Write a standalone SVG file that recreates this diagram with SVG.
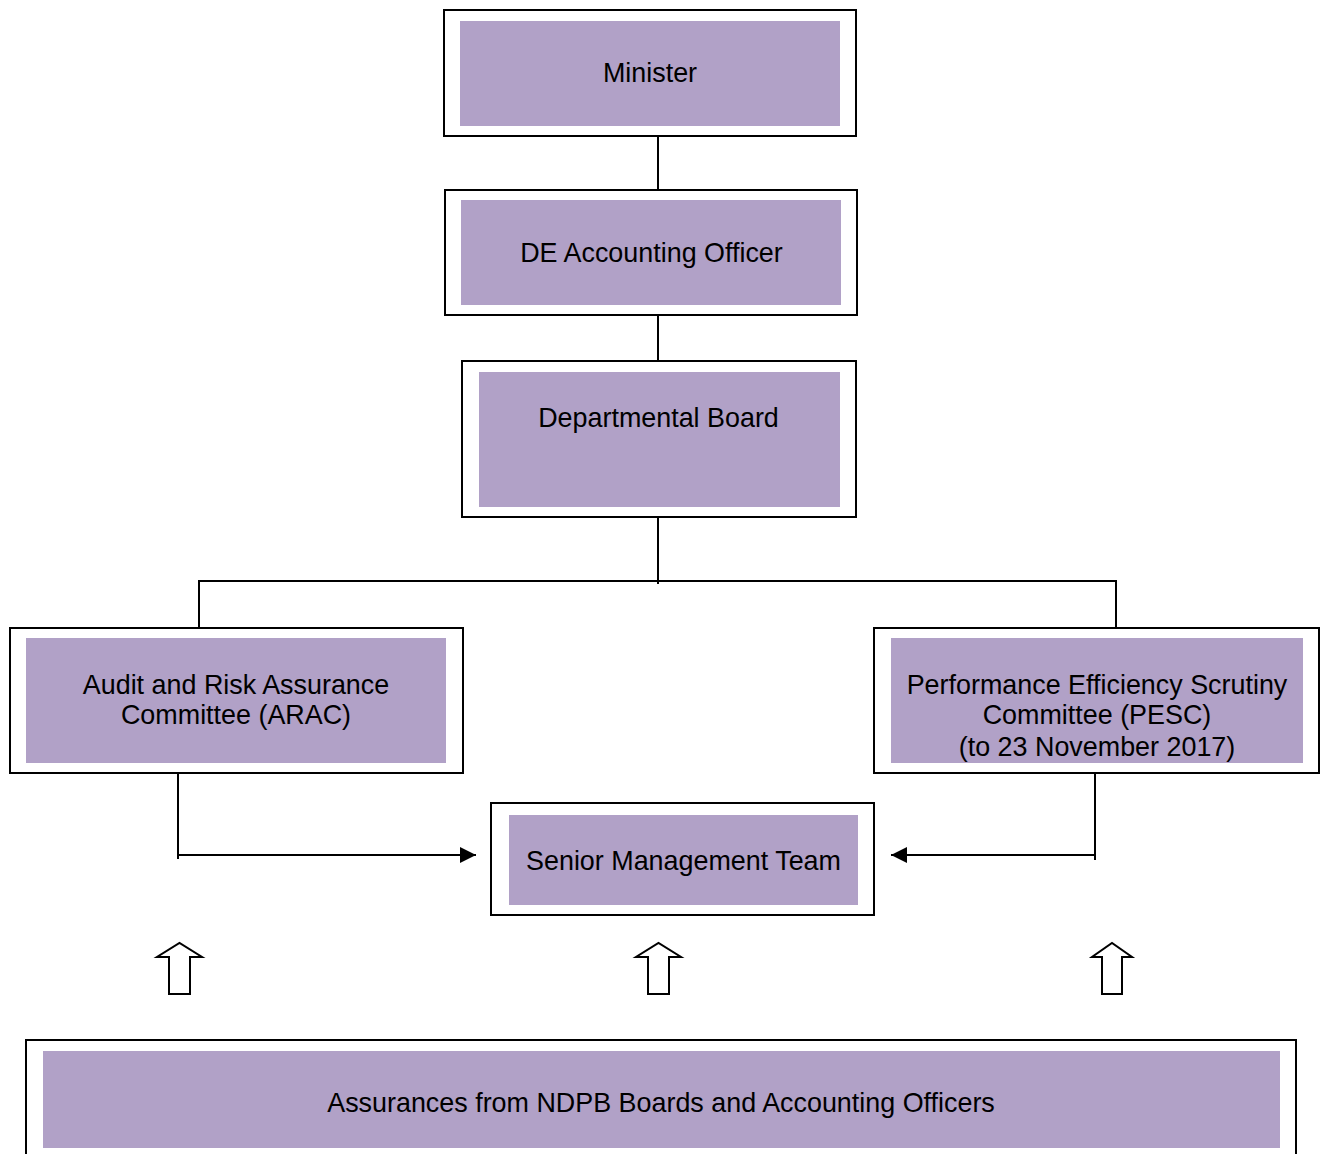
<svg xmlns="http://www.w3.org/2000/svg" width="1322" height="1154" viewBox="0 0 1322 1154">
<style>
.outer{fill:#fff;stroke:#000;stroke-width:2}
.inner{fill:#B1A1C7;stroke:none}
.t{font-family:"Liberation Sans",Arial,sans-serif;font-size:26.9px;fill:#000;text-anchor:middle}
.ln{stroke:#000;stroke-width:2;fill:none}
.hollow{fill:#fff;stroke:#000;stroke-width:2;stroke-linejoin:miter}
</style>
<defs>
<marker id="ah" viewBox="0 0 16 16" refX="16" refY="8" markerWidth="16" markerHeight="16" markerUnits="userSpaceOnUse" orient="auto">
<path d="M0,0 L16,8 L0,16 Z" fill="#000"/>
</marker>
</defs>
<rect width="1322" height="1154" fill="#fff"/>
<g id="connectors">
<line class="ln" x1="658" y1="136" x2="658" y2="190"/>
<line class="ln" x1="658" y1="313" x2="658" y2="361"/>
<line class="ln" x1="658" y1="511" x2="658" y2="584"/>
<polyline class="ln" points="199,627 199,581 1116,581 1116,628"/>
<polyline class="ln" points="178,770 178,859"/>
<line class="ln" x1="178" y1="855" x2="476" y2="855" marker-end="url(#ah)"/>
<polyline class="ln" points="1095,773 1095,860"/>
<line class="ln" x1="1095" y1="855" x2="891" y2="855" marker-end="url(#ah)"/>
<path class="hollow" d="M169,994 L169,957 L157,957 L179.5,943 L202,957 L190,957 L190,994 Z"/>
<path class="hollow" d="M648,994 L648,957 L636,957 L658.5,943 L681,957 L669,957 L669,994 Z"/>
<path class="hollow" d="M1102,994 L1102,957 L1092,957 L1112,943 L1132,957 L1122,957 L1122,994 Z"/>
</g>
<g id="minister">
<rect class="outer" x="444" y="10" width="412" height="126"/>
<rect class="inner" x="460" y="21" width="380" height="105"/>
<text class="t" x="650" y="82">Minister</text>
</g>
<g id="de-accounting-officer">
<rect class="outer" x="445" y="190" width="412" height="125"/>
<rect class="inner" x="461" y="200" width="380" height="105"/>
<text class="t" x="651.5" y="262">DE Accounting Officer</text>
</g>
<g id="departmental-board">
<rect class="outer" x="462" y="361" width="394" height="156"/>
<rect class="inner" x="479" y="372" width="361" height="135"/>
<text class="t" x="658.5" y="427">Departmental Board</text>
</g>
<g id="arac">
<rect class="outer" x="10" y="628" width="453" height="145"/>
<rect class="inner" x="26" y="638" width="420" height="125"/>
<text class="t" x="236" y="694">Audit and Risk Assurance</text>
<text class="t" x="236" y="724">Committee (ARAC)</text>
</g>
<g id="pesc">
<rect class="outer" x="874" y="628" width="445" height="145"/>
<rect class="inner" x="891" y="638" width="412" height="125"/>
<text class="t" x="1097" y="694">Performance Efficiency Scrutiny</text>
<text class="t" x="1097" y="724">Committee (PESC)</text>
<text class="t" x="1097" y="756">(to 23 November 2017)</text>
</g>
<g id="smt">
<rect class="outer" x="491" y="803" width="383" height="112"/>
<rect class="inner" x="509" y="815" width="349" height="90"/>
<text class="t" x="683.5" y="870">Senior Management Team</text>
</g>
<g id="assurances">
<rect class="outer" x="26" y="1040" width="1270" height="130"/>
<rect class="inner" x="43" y="1051" width="1237" height="97"/>
<text class="t" x="661" y="1112">Assurances from NDPB Boards and Accounting Officers</text>
</g>
</svg>
